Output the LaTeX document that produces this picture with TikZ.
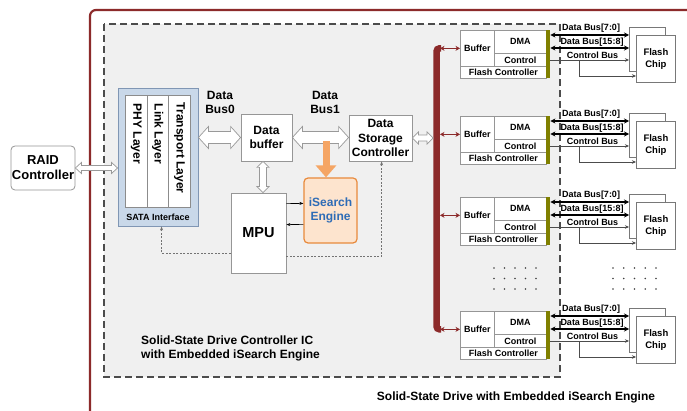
\documentclass[tikz,border=0pt]{standalone}
\usepackage{fontspec}
\setmainfont{Liberation Sans}
\usetikzlibrary{calc,arrows.meta}

\definecolor{ssdred}{RGB}{140,42,42}
\definecolor{icgrey}{RGB}{240,240,240}
\definecolor{sataback}{RGB}{201,216,233}
\definecolor{sataedge}{RGB}{128,150,180}
\definecolor{olivebar}{RGB}{128,128,0}
\definecolor{engfill}{RGB}{253,228,206}
\definecolor{engedge}{RGB}{232,138,60}
\definecolor{engtext}{RGB}{46,108,182}
\definecolor{busorange}{RGB}{245,165,100}
\definecolor{boxedge}{RGB}{150,150,150}
\definecolor{chipedge}{RGB}{120,120,120}

\tikzset{
  box/.style={draw=boxedge, fill=white, line width=0.8pt, inner sep=0pt, align=center,
    font=\bfseries\fontsize{12}{14}\selectfont},
  fcbox/.style={draw=boxedge, fill=white, line width=0.7pt, inner sep=0pt, align=center,
    font=\bfseries\fontsize{9}{10}\selectfont},
  chip/.style={draw=chipedge, fill=white, line width=0.8pt, inner sep=0pt, align=center,
    font=\bfseries\fontsize{9.5}{12}\selectfont},
  layer/.style={draw=black!45, fill=white, line width=0.7pt, minimum height=112pt, inner sep=0pt},
  layertxt/.style={rotate=-90, anchor=west, inner sep=0pt, font=\bfseries\fontsize{12}{14}\selectfont},
  % hollow double-headed block arrow: head length, shaft half width, head half width
  hollow/.style n args={3}{draw=black!40, fill=white, line width=0.7pt,
    to path={
      -- ($(\tikztostart)!#1!(\tikztotarget)!#3!90:(\tikztotarget)$)
      -- ($(\tikztostart)!#1!(\tikztotarget)!#2!90:(\tikztotarget)$)
      -- ($(\tikztotarget)!#1!(\tikztostart)!#2!-90:(\tikztostart)$)
      -- ($(\tikztotarget)!#1!(\tikztostart)!#3!-90:(\tikztostart)$)
      -- (\tikztotarget)
      -- ($(\tikztotarget)!#1!(\tikztostart)!#3!90:(\tikztostart)$)
      -- ($(\tikztotarget)!#1!(\tikztostart)!#2!90:(\tikztostart)$)
      -- ($(\tikztostart)!#1!(\tikztotarget)!#2!-90:(\tikztotarget)$)
      -- ($(\tikztostart)!#1!(\tikztotarget)!#3!-90:(\tikztotarget)$)
      -- cycle}},
  dbus/.style={black, line width=1.3pt,
    {Stealth[length=5pt,width=5pt]}-{Stealth[length=5pt,width=5pt]}},
  cbus/.style={draw=black!70, line width=0.6pt, -{Stealth[length=4pt,width=3.5pt]}},
  rbranch/.style={ssdred, line width=1.5pt,
    {Stealth[length=4.5pt,width=5pt]}-{Stealth[length=4.5pt,width=5pt]}},
  ctrldash/.style={draw=black!55, line width=0.6pt, dash pattern=on 2pt off 1.5pt,
    -{Stealth[length=4pt,width=3pt]}},
  link/.style={black, line width=0.6pt, -{Stealth[length=4pt,width=3pt]}},
  buslbl/.style={font=\bfseries\fontsize{9}{10}\selectfont, inner sep=0pt},
  caption/.style={font=\bfseries\fontsize{12}{14}\selectfont, inner sep=0pt, align=left},
}

\begin{document}
\begin{tikzpicture}[x=1pt,y=-1pt]
\useasboundingbox (0,0) rectangle (687,411);
\fill[white] (0,0) rectangle (687,411);

% drive enclosure
\begin{scope}
  \clip (0,0) rectangle (687,411);
  \draw[ssdred, line width=2.2pt, rounded corners=6pt] (90,10) rectangle (730,450);
\end{scope}

% controller IC area
\draw[draw=black!70, fill=icgrey, line width=1.2pt, dash pattern=on 7pt off 4pt]
  (104,24) rectangle (560,377);

% host side
\node[box, rounded corners=4pt, minimum width=64pt, minimum height=44pt,
  font=\bfseries\fontsize{13}{15}\selectfont] (raid) at (43,168) {RAID\\Controller};

% SATA interface
\node[draw=sataedge, fill=sataback, line width=0.9pt, minimum width=80pt,
  minimum height=138pt, inner sep=0pt] (sata) at (158,157) {};
\node[layer, minimum width=22.3pt] (phy) at (136.15,151) {};
\node[layer, minimum width=21pt] (lnk) at (157.8,151) {};
\node[layer, minimum width=22.3pt] (trn) at (179.45,151) {};
\node[layertxt] (phyt) at ($(phy.north)+(0,9)$) {PHY Layer};
\node[layertxt] (lnkt) at ($(lnk.north)+(0,9)$) {Link Layer};
\node[layertxt] (trnt) at ($(trn.north)+(0,8)$) {Transport Layer};
\node[font=\bfseries\fontsize{9}{10}\selectfont, inner sep=0pt] (satal) at (158,217) {SATA Interface};

% core blocks
\node[box, minimum width=51pt, minimum height=47pt] (db) at (266.5,137.5) {Data\\buffer};
\node[box, minimum width=63pt, minimum height=46pt,
  font=\bfseries\fontsize{12}{14.5}\selectfont] (dsc) at (380.5,138) {Data\\Storage\\Controller};
\node[box, minimum width=55pt, minimum height=80pt,
  font=\bfseries\fontsize{14.5}{17}\selectfont] (mpu) at (258.5,233) {MPU};
\node[draw=engedge, fill=engfill, line width=1.2pt, rounded corners=4pt,
  minimum width=53pt, minimum height=65pt, inner sep=0pt, align=center, text=engtext,
  font=\bfseries\fontsize{12}{13.5}\selectfont] (ise) at (330.5,210.5) {iSearch\\Engine};

\node[caption, align=center] (bus0l) at (220,102) {Data\\Bus0};
\node[caption, align=center] (bus1l) at (325,102) {Data\\Bus1};

% internal buses
\draw[hollow={6pt}{2.5pt}{5.5pt}] (raid.east) to (raid.east -| sata.west);
\draw[hollow={10pt}{6pt}{11pt}] (sata.east |- db.west) to (db.west);
\draw[hollow={10pt}{6pt}{11pt}] (db.east) to (db.east -| dsc.west);
\coordinate (vtop) at ($(db.south)+(-3.5,0)$);
\draw[hollow={6pt}{3.5pt}{6pt}] (vtop) to (vtop |- mpu.north);

% search engine tap
\coordinate (tap) at ($(ise.north)+(-4.5,-36)$);
\draw[busorange, line width=7pt, -{Triangle[width=20pt,length=12pt]}] (tap) -- (tap |- ise.north);

% MPU <-> engine
\draw[link] ($(mpu.north east)+(0,11)$) -- ($(ise.north west)+(0,26)$);
\draw[link] ($(ise.north west)+(0,47)$) -- ($(mpu.north east)+(0,32)$);

% control paths
\draw[ctrldash] ($(mpu.south west)+(0,-20)$) -| ($(sata.south west)+(44,0)$);
\draw[ctrldash] ($(mpu.south east)+(0,-17)$) -| ($(dsc.south west)+(33,0)$);

% flash channels
\foreach \i/\t in {1/30,2/116,3/197,4/311}{
  \node[fcbox, minimum width=34pt, minimum height=36pt, anchor=north west] (buf\i) at (460,\t) {Buffer};
  \node[fcbox, minimum width=52pt, minimum height=23pt, anchor=north west] (dma\i) at (494,\t) {DMA};
  \node[fcbox, minimum width=52pt, minimum height=13pt, anchor=north west] (ctl\i) at (494,\t+23) {Control};
  \node[fcbox, minimum width=86pt, minimum height=12pt, anchor=north west] (fc\i) at (460,\t+36) {Flash Controller};
  \node[fill=olivebar, minimum width=4pt, minimum height=48pt, inner sep=0pt, anchor=north west] (bar\i) at (546,\t) {};
  \node[chip, minimum width=36pt, minimum height=44pt, anchor=north west] (chb\i) at (629,\t-3) {};
  \node[chip, minimum width=39pt, minimum height=47pt, anchor=north west] (chf\i) at (636,\t+5) {Flash\\Chip};
  \draw[dbus] ($(bar\i.north east)+(0,5)$) -- ($(chb\i.north west)+(0,8)$);
  \draw[dbus] ($(bar\i.north east)+(0,18)$) -- ($(chb\i.north west)+(0,21)$);
  \draw[cbus] ($(bar\i.north east)+(0,30)$) -- ($(chb\i.north west)+(0,33)$);
  \draw[cbus] ($(bar\i.north east)+(29,30)$) |- ($(chf\i.north west)+(0,41)$);
  \node[buslbl] (l7\i) at (591,\t-2) {Data Bus[7:0]};
  \node[buslbl] (l15\i) at (592,\t+12) {Data Bus[15:8]};
  \node[buslbl] (lc\i) at (592.5,\t+25) {Control Bus};
}

% storage bus
\coordinate (busx) at (436.5,0);
\coordinate (busr) at (440,0);
\coordinate (busl) at (433,0);
\draw[ssdred, line width=6.5pt, rounded corners=3pt]
  ($(buf1.west -| busr)+(1,0)$) -- (buf1.west -| busx) -- (buf4.west -| busx) -- ($(buf4.west -| busr)+(1,0)$);
\foreach \i in {1,2,3,4}{
  \draw[rbranch] (buf\i.west -| busr) -- (buf\i.west);
}
\draw[hollow={6pt}{3pt}{6pt}] (dsc.east) to (dsc.east -| busl);

% continuation marks
\foreach \r in {268,278.5,289}{
  \foreach \c in {0,...,4}{
    \fill[black!75] (494+\c*10.5,\r) circle[radius=0.9pt];
    \fill[black!75] (613+\c*10.75,\r) circle[radius=0.9pt];
  }
}

% captions
\node[caption, anchor=west] (iccap) at (141,348) {Solid-State Drive Controller IC\\with Embedded iSearch Engine};
\node[caption] (ssdcap) at (516,397) {Solid-State Drive with Embedded iSearch Engine};
\end{tikzpicture}
\end{document}
